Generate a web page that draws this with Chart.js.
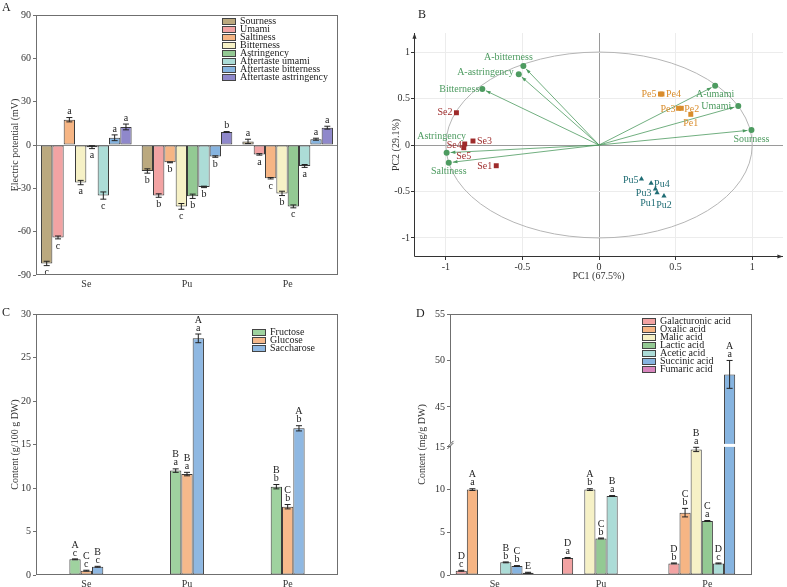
<!DOCTYPE html>
<html>
<head>
<meta charset="utf-8">
<script src="https://cdn.jsdelivr.net/npm/chart.js@4.4.0/dist/chart.umd.min.js"></script>
<style>
  body { margin: 0; background: #fff; }
  #page { position: relative; width: 787px; height: 587px; overflow: hidden; }
  canvas { position: absolute; }
</style>
</head>
<body>
<div id="page">
  <canvas id="chartA" width="390" height="290" style="left:0;top:0"></canvas>
  <canvas id="chartB" width="397" height="290" style="left:390px;top:0"></canvas>
  <canvas id="chartC" width="390" height="297" style="left:0;top:290px"></canvas>
  <canvas id="chartD" width="397" height="297" style="left:390px;top:290px"></canvas>
</div>
<script>
// ---- data ----
const groups = ['Se', 'Pu', 'Pe'];

// A: electronic tongue
const tasteNames = ['Sourness', 'Umami', 'Saltiness', 'Bitterness', 'Astringency',
    'Aftertaste umami', 'Aftertaste bitterness', 'Aftertaste astringency'];
const tasteSe = [-82, -64, 17.5, -26, -1.5, -35, 5, 12.5];
const tastePu = [-18, -35, -12, -42.5, -35.5, -29, -8, 9];
const tastePe = [2.5, -6.5, -23, -33.5, -42.5, -14.5, 4, 12];
const tasteErrSe = [1.5, 1, 1.5, 1.5, 1, 2.5, 2, 2];
const tasteErrPu = [1.5, 1.2, 0.3, 2, 1.5, 0.5, 0.5, 0.3];
const tasteErrPe = [1.5, 0.5, 0.5, 1.5, 1, 1, 0.7, 1];
const tasteSigSe = ['c', 'c', 'a', 'a', 'a', 'c', 'a', 'a'];
const tasteSigPu = ['b', 'b', 'b', 'c', 'b', 'b', 'b', 'b'];
const tasteSigPe = ['a', 'a', 'c', 'b', 'c', 'a', 'a', 'a'];
const tasteTicks = [-90, -60, -30, 0, 30, 60, 90];

// B: PCA biplot
const pcaVars = ['A-bitterness', 'A-astringency', 'Bitterness', 'A-umami', 'Umami', 'Sourness', 'Astringency', 'Saltiness'];
const pcaVarX = [-0.494, -0.524, -0.762, 0.758, 0.909, 0.995, -0.995, -0.981];
const pcaVarY = [0.849, 0.760, 0.602, 0.638, 0.419, 0.161, -0.083, -0.190];
const seNames = ['Se1', 'Se2', 'Se3', 'Se4', 'Se5'];
const seX = [-0.671, -0.931, -0.823, -0.877, -0.883];
const seY = [-0.223, 0.347, 0.043, 0.011, -0.029];
const puNames = ['Pu1', 'Pu2', 'Pu3', 'Pu4', 'Pu5'];
const puX = [0.379, 0.424, 0.368, 0.340, 0.277];
const puY = [-0.513, -0.548, -0.473, -0.412, -0.366];
const peNames = ['Pe1', 'Pe2', 'Pe3', 'Pe4', 'Pe5'];
const peX = [0.599, 0.537, 0.519, 0.411, 0.401];
const peY = [0.330, 0.395, 0.395, 0.548, 0.548];
const pcaTicks = [-1, -0.5, 0, 0.5, 1];

// C: sugars (g/100 g DW)
const sugarNames = ['Fructose', 'Glucose', 'Saccharose'];
const fructose = [1.8, 12.0, 10.15];
const glucose = [0.5, 11.6, 7.85];
const saccharose = [0.95, 27.2, 16.86];
const sugarErr = [[0.05, 0.2, 0.25], [0.05, 0.2, 0.25], [0.05, 0.5, 0.3]];
const sugarSig = [['A\nc', 'B\na', 'B\nb'], ['C\nc', 'B\na', 'C\nb'], ['B\nc', 'A\na', 'A\nb']];
const sugarTicks = [0, 5, 10, 15, 20, 25, 30];

// D: organic acids (mg/g DW), axis broken between 15 and ~40.7
const acidNames = ['Galacturonic acid', 'Oxalic acid', 'Malic acid', 'Lactic acid',
    'Acetic acid', 'Succinic acid', 'Fumaric acid'];
const galacturonic = [0.5, 2.0, 1.36];
const oxalic = [10.0, null, 7.3];
const malic = [null, 10.0, 14.7];
const lactic = [null, 4.28, 6.33];
const acetic = [1.48, 9.25, 1.36];
const succinic = [1.05, null, 48.5];
const fumaric = [0.27, null, null];
const acidErr = [[0.05, 0.05, 0.05], [0.1, null, 0.5], [null, 0.1, 0.25], [null, 0.05, 0.05],
    [0.05, 0.05, 0.05], [0.05, null, 1.5], [0.05, null, null]];
const acidSig = [['D\nc', 'D\na', 'D\nb'], ['A\na', '', 'C\nb'], ['', 'A\nb', 'B\na'], ['', 'C\nb', 'C\na'],
    ['B\nb', 'B\na', 'D\nc'], ['C\nb', '', 'A\na'], ['E', '', '']];
const acidTicks = [0, 5, 10, 15, 45, 50, 55];
const BREAK_LO = 15, BREAK_HI = 40.7, UPPER_K = 1.088;

// ---- styles ----
const SERIF = "'Liberation Serif', 'Times New Roman', serif";
Chart.defaults.font.family = SERIF;
Chart.defaults.font.size = 10;
Chart.defaults.color = '#222';

const tasteColors = ['#bba97f', '#f2a3a3', '#f6b584', '#f6f1c6', '#93c993', '#acdcd7', '#86b4e0', '#8f88cb'];
const sugarColors = ['#9fd29f', '#f6b98b', '#8fb8e2'];
const acidColors = ['#f2a3a3', '#f6b584', '#f6f1c6', '#93c993', '#acdcd7', '#86b4e0', '#d785bd'];

function brk(v) {
    return v <= BREAK_LO ? v : BREAK_LO + (v - BREAK_HI) * UPPER_K;
}

// error bars, significance letters, frame, legend, panel letter
function annotate(cfg) {
    return {
        id: 'annotate',
        afterDatasetsDraw(chart) {
            const ctx = chart.ctx, ys = chart.scales.y, area = chart.chartArea;
            const tf = cfg.tf || (v => v);
            ctx.save();
            if (cfg.afterBars) cfg.afterBars(chart, ctx);

            ctx.strokeStyle = '#222';
            ctx.fillStyle = '#222';
            ctx.lineWidth = 1;
            ctx.font = '10px ' + SERIF;
            ctx.textAlign = 'center';
            ctx.textBaseline = 'middle';
            cfg.values.forEach((series, i) => {
                const meta = chart.getDatasetMeta(i);
                series.forEach((v, j) => {
                    if (v == null) return;
                    const x = meta.data[j].x;
                    const e = cfg.errors[i][j] || 0;
                    const yHi = ys.getPixelForValue(tf(v + e));
                    const yLo = ys.getPixelForValue(tf(v - e));
                    if (e > 0) {
                        ctx.beginPath();
                        ctx.moveTo(x, yHi); ctx.lineTo(x, yLo);
                        ctx.moveTo(x - 3, yHi); ctx.lineTo(x + 3, yHi);
                        ctx.moveTo(x - 3, yLo); ctx.lineTo(x + 3, yLo);
                        ctx.stroke();
                    }
                    const sig = cfg.letters[i][j];
                    if (!sig) return;
                    const lines = sig.split('\n');
                    if (v >= 0) {
                        lines.forEach((t, k) => ctx.fillText(t, x, yHi - 6 - (lines.length - 1 - k) * 8));
                    } else {
                        lines.forEach((t, k) => ctx.fillText(t, x, yLo + 7 + k * 8));
                    }
                });
            });

            // frame round the plot
            ctx.strokeStyle = '#6f6f6f';
            const l = Math.round(area.left) + 0.5, t = Math.round(area.top) + 0.5;
            const r = Math.round(area.right) - 0.5, b = Math.round(area.bottom) - 0.5;
            ctx.strokeRect(l, t, r - l, b - t);
            if (cfg.afterFrame) cfg.afterFrame(chart, ctx);

            // legend
            const lg = cfg.legend;
            ctx.textAlign = 'left';
            ctx.font = '10px ' + SERIF;
            lg.names.forEach((name, i) => {
                const y = lg.y + i * lg.step;
                ctx.fillStyle = lg.colors[i];
                ctx.fillRect(lg.x, y - 3, 13, 6);
                ctx.strokeStyle = '#444';
                ctx.strokeRect(lg.x + 0.5, y - 3 + 0.5, 13, 6);
                ctx.fillStyle = '#222';
                ctx.fillText(name, lg.x + 18, y);
            });

            ctx.font = '12px ' + SERIF;
            ctx.fillText(cfg.panel[0], cfg.panel[1], cfg.panel[2]);
            ctx.restore();
        }
    };
}

function barOptions(cfg) {
    return {
        responsive: false,
        devicePixelRatio: 1,
        animation: false,
        layout: { padding: cfg.padding },
        plugins: { legend: { display: false }, tooltip: { enabled: false } },
        datasets: {
            bar: {
                categoryPercentage: cfg.catPct,
                barPercentage: 1,
                borderWidth: 1,
                borderColor: '#3a3a3a',
                borderSkipped: false
            }
        },
        scales: {
            x: cfg.x,
            y: {
                min: cfg.yMin,
                max: cfg.yMax,
                afterBuildTicks: s => { s.ticks = cfg.ticks.map(v => ({ value: cfg.tf ? cfg.tf(v) : v })); },
                ticks: { callback: (v, i) => String(cfg.ticks[i]), padding: 2, color: '#333' },
                grid: {
                    color: c => (cfg.zeroLine && c.tick && c.tick.value === 0) ? '#8a8a8a' : 'rgba(0,0,0,0)',
                    tickColor: '#6f6f6f',
                    tickLength: 3
                },
                border: { display: false },
                title: { display: true, text: cfg.title, color: '#333', padding: { top: cfg.titlePad, bottom: 0 } },
                afterFit: s => { s.width = cfg.yWidth; }
            }
        }
    };
}

function categoryX(height, pad) {
    return {
        grid: { display: false, drawTicks: false },
        border: { display: false },
        ticks: { padding: pad, color: '#333' },
        afterFit: s => { s.height = height; }
    };
}

// ---- A ----
const tasteValues = tasteNames.map((_, i) => [tasteSe[i], tastePu[i], tastePe[i]]);
const tasteErrors = tasteNames.map((_, i) => [tasteErrSe[i], tasteErrPu[i], tasteErrPe[i]]);
const tasteLetters = tasteNames.map((_, i) => [tasteSigSe[i], tasteSigPu[i], tasteSigPe[i]]);

new Chart(document.getElementById('chartA'), {
    type: 'bar',
    data: {
        labels: groups,
        datasets: tasteNames.map((n, i) => ({ label: n, data: tasteValues[i], backgroundColor: tasteColors[i] }))
    },
    options: barOptions({
        padding: { top: 15, right: 52, left: 0, bottom: 0 },
        catPct: 0.9, yMin: -90, yMax: 90, ticks: tasteTicks, zeroLine: true,
        title: 'Electric potential (mV)', titlePad: 9, yWidth: 36,
        x: categoryX(15, 3)
    }),
    plugins: [annotate({
        values: tasteValues, errors: tasteErrors, letters: tasteLetters,
        legend: { names: tasteNames, colors: tasteColors, x: 222, y: 21, step: 8 },
        panel: ['A', 2, 8]
    })]
});

// ---- B ----
const GREEN = '#4d9b60', SE_COL = '#9e2b2b', PU_COL = '#1f6c74', PE_COL = '#d98c2b';
const varLabelPos = [[-15, -9, 'center'], [-5, -2, 'right'], [-3, 0, 'right'], [0, 9, 'center'],
    [-7, 0, 'right'], [0, 9, 'center'], [-5, -16, 'center'], [0, 9, 'center']];
const seLabelPos = [[-4, 1, 'right'], [-4, 0, 'right'], [4, 0, 'left'], [-3, 1, 'right'], [0, 9, 'center']];
const puLabelPos = [[-9, 11, 'center'], [0, 9, 'center'], [-4, 4, 'right'], [3, 1, 'left'], [-3, 1, 'right']];
const peLabelPos = [[0, 9, 'center'], [3, 1, 'left'], [-3, 1, 'right'], [4, 0, 'left'], [-4, 0, 'right']];

function pts(xs, ys) { return xs.map((x, i) => ({ x: x, y: ys[i] })); }

function arrow(ctx, x0, y0, x1, y1, size) {
    const a = Math.atan2(y1 - y0, x1 - x0);
    ctx.beginPath();
    ctx.moveTo(x0, y0);
    ctx.lineTo(x1, y1);
    ctx.stroke();
    ctx.beginPath();
    ctx.moveTo(x1, y1);
    ctx.lineTo(x1 - size * Math.cos(a - 0.35), y1 - size * Math.sin(a - 0.35));
    ctx.lineTo(x1 - size * Math.cos(a + 0.35), y1 - size * Math.sin(a + 0.35));
    ctx.closePath();
    ctx.fill();
}

const biplot = {
    id: 'biplot',
    beforeDatasetsDraw(chart) {
        const ctx = chart.ctx, xs = chart.scales.x, ys = chart.scales.y;
        const cx = xs.getPixelForValue(0), cy = ys.getPixelForValue(0);
        ctx.save();
        ctx.strokeStyle = '#b5b5b5';
        ctx.lineWidth = 1;
        ctx.beginPath();
        ctx.ellipse(cx, cy, xs.getPixelForValue(1) - cx, cy - ys.getPixelForValue(1), 0, 0, Math.PI * 2);
        ctx.stroke();
        ctx.strokeStyle = GREEN;
        ctx.fillStyle = GREEN;
        ctx.lineWidth = 0.8;
        pcaVarX.forEach((vx, i) => {
            const px = xs.getPixelForValue(vx), py = ys.getPixelForValue(pcaVarY[i]);
            const len = Math.hypot(px - cx, py - cy);
            const k = (len - 4) / len;
            arrow(ctx, cx, cy, cx + (px - cx) * k, cy + (py - cy) * k, 5);
        });
        ctx.restore();
    },
    afterDatasetsDraw(chart) {
        const ctx = chart.ctx, xs = chart.scales.x, ys = chart.scales.y, area = chart.chartArea;
        ctx.save();
        ctx.font = '10px ' + SERIF;
        ctx.textBaseline = 'middle';
        const put = (names, xv, yv, pos, color) => {
            ctx.fillStyle = color;
            names.forEach((n, i) => {
                ctx.textAlign = pos[i][2];
                ctx.fillText(n, xs.getPixelForValue(xv[i]) + pos[i][0], ys.getPixelForValue(yv[i]) + pos[i][1]);
            });
        };
        put(pcaVars, pcaVarX, pcaVarY, varLabelPos, GREEN);
        put(seNames, seX, seY, seLabelPos, SE_COL);
        put(puNames, puX, puY, puLabelPos, PU_COL);
        put(peNames, peX, peY, peLabelPos, PE_COL);

        // axes with arrow heads
        ctx.strokeStyle = '#333';
        ctx.fillStyle = '#333';
        ctx.lineWidth = 1;
        const l = Math.round(area.left) + 0.5, b = Math.round(area.bottom) - 0.5;
        arrow(ctx, l, b, l, area.top, 6);
        arrow(ctx, l, b, area.right, b, 6);

        ctx.fillStyle = '#222';
        ctx.textAlign = 'left';
        ctx.font = '12px ' + SERIF;
        ctx.fillText('B', 28, 15);
        ctx.restore();
    }
};

function pcaAxis(min, max, size, title, titlePad) {
    return {
        type: 'linear', min: min, max: max,
        afterBuildTicks: s => { s.ticks = pcaTicks.map(v => ({ value: v })); },
        ticks: { padding: 1, color: '#333', callback: v => String(v) },
        grid: {
            color: c => (c.tick && c.tick.value === 0) ? '#9a9a9a' : '#ececec',
            tickColor: '#333', tickLength: 3
        },
        border: { display: false },
        title: { display: true, text: title, color: '#333', padding: titlePad },
        afterFit: s => { if (s.isHorizontal()) s.height = size; else s.width = size; }
    };
}

new Chart(document.getElementById('chartB'), {
    type: 'scatter',
    data: {
        datasets: [
            { data: pts(pcaVarX, pcaVarY), pointStyle: 'circle', pointRadius: 3, backgroundColor: GREEN, borderWidth: 0 },
            { data: pts(seX, seY), pointStyle: 'rect', pointRadius: 3.5, backgroundColor: SE_COL, borderWidth: 0 },
            { data: pts(puX, puY), pointStyle: 'triangle', pointRadius: 3, backgroundColor: PU_COL, borderWidth: 0 },
            { data: pts(peX, peY), pointStyle: 'rect', pointRadius: 3.5, backgroundColor: PE_COL, borderWidth: 0 }
        ]
    },
    options: {
        responsive: false,
        devicePixelRatio: 1,
        animation: false,
        layout: { padding: { top: 33, right: 2, left: 0, bottom: 0 } },
        plugins: { legend: { display: false }, tooltip: { enabled: false } },
        scales: {
            x: pcaAxis(-1.208, 1.201, 33, 'PC1 (67.5%)', { top: 0, bottom: 8 }),
            y: pcaAxis(-1.205, 1.205, 24, 'PC2 (29.1%)', { top: 0, bottom: 0 })
        }
    },
    plugins: [biplot]
});

// ---- C ----
const sugarValues = [fructose, glucose, saccharose];

new Chart(document.getElementById('chartC'), {
    type: 'bar',
    data: {
        labels: groups,
        datasets: sugarNames.map((n, i) => ({ label: n, data: sugarValues[i], backgroundColor: sugarColors[i] }))
    },
    options: barOptions({
        padding: { top: 24, right: 52, left: 0, bottom: 0 },
        catPct: 0.337, yMin: 0, yMax: 30, ticks: sugarTicks, zeroLine: false,
        title: 'Content (g/100 g DW)', titlePad: 9, yWidth: 36,
        x: categoryX(12, 3)
    }),
    plugins: [annotate({
        values: sugarValues, errors: sugarErr, letters: sugarSig,
        legend: { names: sugarNames, colors: sugarColors, x: 252, y: 42, step: 8 },
        panel: ['C', 2, 23]
    })]
});

// ---- D ----
const acidValues = [galacturonic, oxalic, malic, lactic, acetic, succinic, fumaric];

new Chart(document.getElementById('chartD'), {
    type: 'bar',
    data: {
        datasets: acidNames.map((n, i) => ({
            label: n,
            data: acidValues[i].map((v, j) => ({ x: j, y: v == null ? null : brk(v) })),
            backgroundColor: acidColors[i]
        }))
    },
    options: barOptions({
        padding: { top: 24, right: 35, left: 0, bottom: 0 },
        catPct: 0.733, yMin: 0, yMax: brk(55), ticks: acidTicks, tf: brk, zeroLine: false,
        title: 'Content (mg/g DW)', titlePad: 26, yWidth: 60,
        x: {
            type: 'linear', min: -0.42, max: 2.42, offset: false,
            afterBuildTicks: s => { s.ticks = groups.map((g, i) => ({ value: i })); },
            ticks: { padding: 3, color: '#333', callback: (v, i) => groups[i] },
            grid: { display: false, drawTicks: false },
            border: { display: false },
            afterFit: s => { s.height = 12; }
        }
    }),
    plugins: [annotate({
        values: acidValues, errors: acidErr, letters: acidSig, tf: brk,
        legend: { names: acidNames, colors: acidColors, x: 252, y: 31, step: 8 },
        panel: ['D', 26, 24],
        afterBars: (chart, ctx) => {
            // white gap across the broken bar
            const yb = chart.scales.y.getPixelForValue(BREAK_LO);
            const meta = chart.getDatasetMeta(5);
            const bar = meta.data[2];
            ctx.fillStyle = '#fff';
            ctx.fillRect(bar.x - bar.width / 2 - 1, yb - 3, bar.width + 2, 3);
        },
        afterFrame: (chart, ctx) => {
            // break marks on the axis
            const yb = chart.scales.y.getPixelForValue(BREAK_LO);
            const x = Math.round(chart.chartArea.left) + 0.5;
            ctx.fillStyle = '#fff';
            ctx.fillRect(x - 1, yb - 4, 3, 3);
            ctx.strokeStyle = '#555';
            ctx.beginPath();
            ctx.moveTo(x - 3, yb); ctx.lineTo(x + 3, yb - 6);
            ctx.moveTo(x - 3, yb + 2); ctx.lineTo(x + 3, yb - 4);
            ctx.stroke();
        }
    })]
});
</script>
</body>
</html>
